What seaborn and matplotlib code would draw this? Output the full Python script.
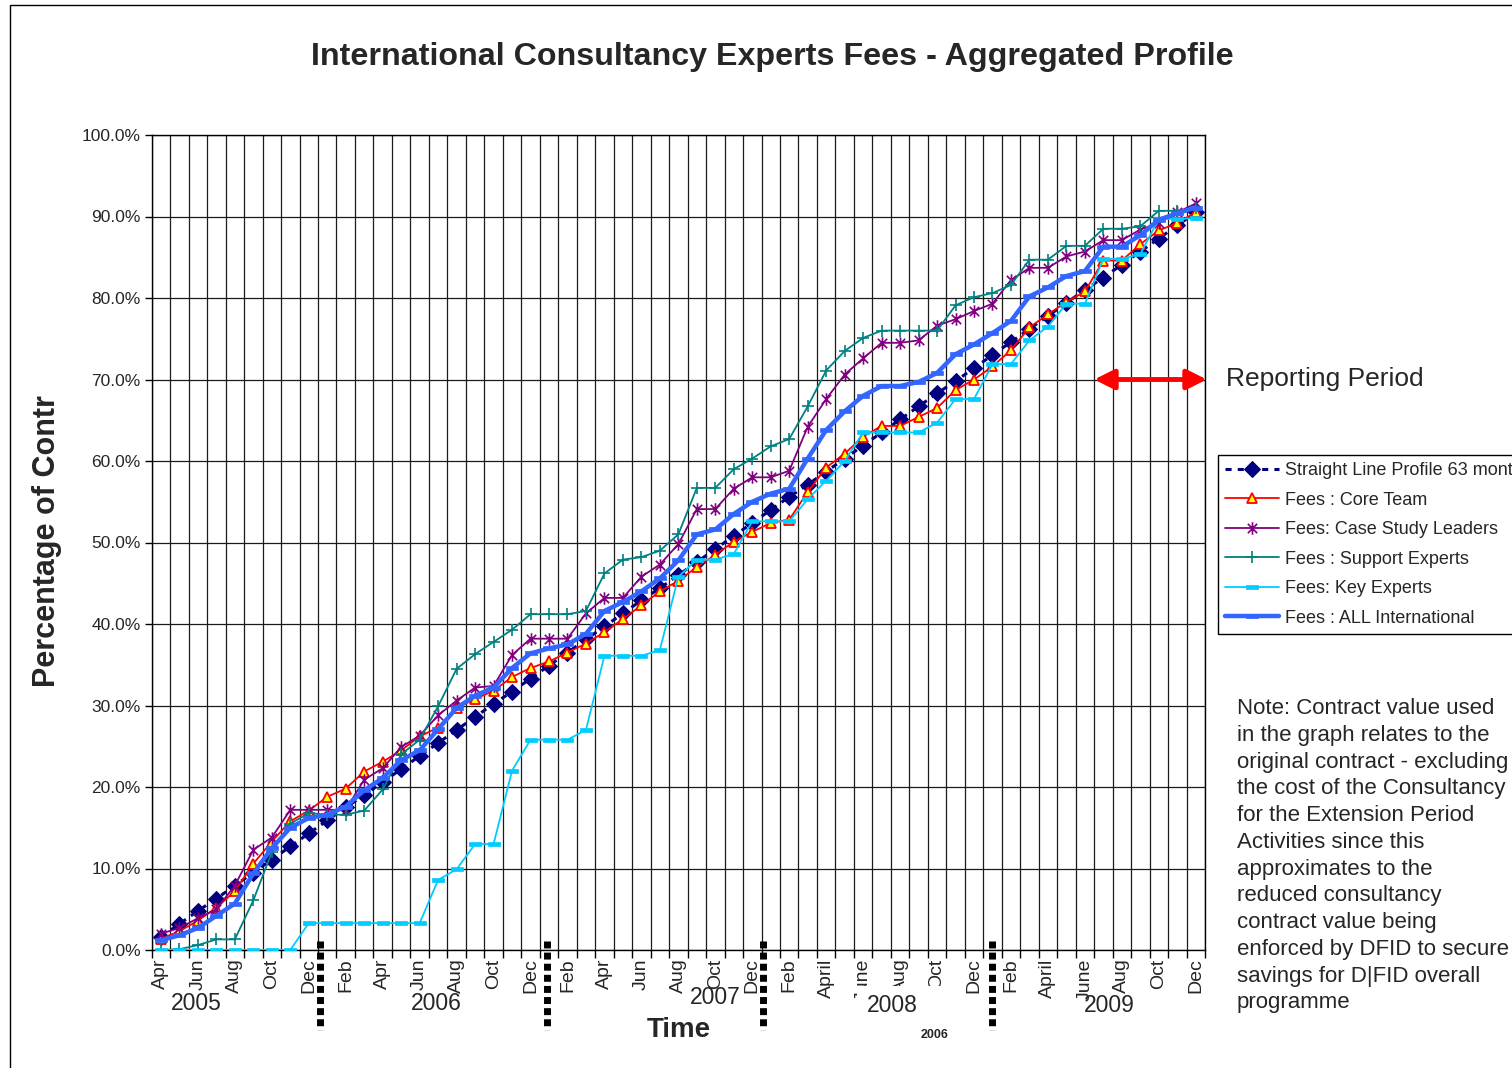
import matplotlib
matplotlib.use("Agg")
import matplotlib.pyplot as plt
import matplotlib.transforms as mtransforms
from matplotlib.path import Path
from matplotlib.patches import Rectangle
import numpy as np
import pandas as pd
import seaborn as sns

# months Apr 2005 .. Dec 2009 (57 categories)
months = ["Apr-05", "May-05", "Jun-05", "Jul-05", "Aug-05", "Sep-05", "Oct-05", "Nov-05", "Dec-05",
          "Jan-06", "Feb-06", "Mar-06", "Apr-06", "May-06", "Jun-06", "Jul-06", "Aug-06", "Sep-06",
          "Oct-06", "Nov-06", "Dec-06", "Jan-07", "Feb-07", "Mar-07", "Apr-07", "May-07", "Jun-07",
          "Jul-07", "Aug-07", "Sep-07", "Oct-07", "Nov-07", "Dec-07", "Jan-08", "Feb-08", "Mar-08",
          "Apr-08", "May-08", "Jun-08", "Jul-08", "Aug-08", "Sep-08", "Oct-08", "Nov-08", "Dec-08",
          "Jan-09", "Feb-09", "Mar-09", "Apr-09", "May-09", "Jun-09", "Jul-09", "Aug-09", "Sep-09",
          "Oct-09", "Nov-09", "Dec-09"]

tick_labels = ["Apr", "Jun", "Aug", "Oct", "Dec",
               "Feb", "Apr", "Jun", "Aug", "Oct", "Dec",
               "Feb", "Apr", "Jun", "Aug", "Oct", "Dec",
               "Feb", "April", "June", "Aug", "Oct", "Dec",
               "Feb", "April", "June", "Aug", "Oct", "Dec"]

year_labels = ["2005", "2006", "2007", "2008", "2009"]

straight = [1.6, 3.2, 4.8, 6.3, 7.9, 9.5, 11.1, 12.7, 14.3, 15.9, 17.5, 19.0, 20.6, 22.2, 23.8, 25.4,
            27.0, 28.6, 30.2, 31.7, 33.3, 34.9, 36.5, 38.1, 39.7, 41.3, 42.9, 44.4, 46.0, 47.6, 49.2,
            50.8, 52.4, 54.0, 55.6, 57.1, 58.7, 60.3, 61.9, 63.5, 65.1, 66.7, 68.3, 69.8, 71.4, 73.0,
            74.6, 76.2, 77.8, 79.4, 81.0, 82.5, 84.1, 85.7, 87.3, 88.9, 90.5]
core = [1.4, 2.3, 3.6, 5.2, 7.2, 10.6, 13.3, 15.8, 17.1, 18.8, 19.8, 21.9, 23.1, 24.5, 26.2, 27.3,
        29.7, 30.8, 31.8, 33.5, 34.6, 35.4, 36.5, 37.6, 39.0, 40.6, 42.3, 44.0, 45.3, 47.0, 48.5,
        50.1, 51.3, 52.4, 52.8, 56.2, 59.2, 60.9, 63.0, 64.3, 64.3, 65.4, 66.5, 68.7, 70.0, 71.6,
        73.6, 76.4, 78.0, 79.5, 80.8, 84.6, 84.6, 86.6, 88.3, 89.2, 90.5]
case_study = [2.0, 2.7, 3.9, 5.0, 7.9, 12.3, 13.8, 17.2, 17.2, 17.2, 17.2, 20.9, 22.3, 24.9, 26.3, 28.8,
              30.6, 32.2, 32.4, 36.2, 38.2, 38.2, 38.2, 41.3, 43.2, 43.2, 45.8, 47.3, 49.8, 54.1, 54.1,
              56.6, 58.0, 58.0, 58.8, 64.2, 67.6, 70.6, 72.6, 74.5, 74.5, 74.8, 76.6, 77.4, 78.4, 79.3,
              82.2, 83.7, 83.7, 85.1, 85.7, 87.1, 87.1, 88.4, 89.2, 90.5, 91.6]
support = [0.0, 0.1, 0.6, 1.3, 1.3, 6.1, 12.0, 15.5, 16.8, 16.6, 16.6, 17.1, 19.7, 24.0, 25.8, 29.9,
           34.5, 36.3, 37.8, 39.3, 41.2, 41.2, 41.2, 41.6, 46.2, 47.9, 48.2, 49.0, 51.0, 56.7, 56.7,
           59.0, 60.3, 61.8, 62.7, 66.7, 71.1, 73.5, 75.1, 76.0, 76.0, 76.0, 76.0, 79.1, 80.1, 80.6,
           81.6, 84.7, 84.7, 86.4, 86.4, 88.5, 88.5, 88.8, 90.7, 90.7, 91.0]
key = [0.0, 0.0, 0.0, 0.0, 0.0, 0.0, 0.0, 0.0, 3.3, 3.3, 3.3, 3.3, 3.3, 3.3, 3.3, 8.6,
       9.9, 13.0, 13.0, 22.0, 25.8, 25.8, 25.8, 27.0, 36.1, 36.1, 36.1, 36.8, 45.8, 47.9, 47.9,
       48.6, 52.6, 52.6, 52.6, 55.3, 57.6, 60.0, 63.5, 63.5, 63.5, 63.5, 64.7, 67.6, 67.6, 71.9,
       71.9, 74.8, 76.5, 79.3, 79.3, 84.8, 84.8, 85.4, 89.7, 89.7, 89.8]
all_int = [1.2, 1.8, 2.7, 4.2, 5.7, 9.4, 12.5, 15.0, 16.2, 16.6, 17.6, 19.6, 21.1, 23.3, 24.5, 27.1,
           29.7, 31.2, 32.2, 34.6, 36.4, 37.0, 37.5, 38.8, 41.6, 42.7, 44.0, 45.6, 47.8, 51.0, 51.6,
           53.5, 55.0, 56.0, 56.6, 60.3, 63.8, 66.1, 68.0, 69.2, 69.2, 69.7, 70.8, 73.1, 74.3, 75.7,
           77.2, 80.2, 81.3, 82.7, 83.3, 86.3, 86.3, 87.7, 89.6, 90.4, 91.1]

note = ("Note: Contract value used\nin the graph relates to the\noriginal contract - excluding\n"
        "the cost of the Consultancy\nfor the Extension Period\nActivities since this\n"
        "approximates to the\nreduced consultancy\ncontract value being\n"
        "enforced by DFID to secure\nsavings for D|FID overall\nprogramme")

sns.set_style("white")
plt.rcParams["font.family"] = ["Liberation Sans", "DejaVu Sans"]

W, H = 1512, 1068
fig = plt.figure(figsize=(W / 100, H / 100), dpi=100)
ax = fig.add_axes([151.7 / W, 1 - 950 / H, (1205 - 151.7) / W, (950 - 135) / H])

df = pd.DataFrame({"idx": np.arange(len(months)), "month": months,
                   "straight": straight, "core": core, "case": case_study,
                   "support": support, "key": key, "all": all_int})

# custom markers like the Excel ones
star = Path([(-0.75, -0.75), (0.75, 0.75), (-0.75, 0.75), (0.75, -0.75), (0, -1), (0, 1)],
            [Path.MOVETO, Path.LINETO, Path.MOVETO, Path.LINETO, Path.MOVETO, Path.LINETO])
bar = Path([(-1, -0.4), (1, -0.4), (1, 0.4), (-1, 0.4), (-1, -0.4)],
           [Path.MOVETO, Path.LINETO, Path.LINETO, Path.LINETO, Path.CLOSEPOLY])

series = [
    ("straight", "Straight Line Profile 63 months",
     dict(color="#000080", lw=2.2, linestyle=(0, (2, 2)), marker="D", markersize=8,
          markerfacecolor="#000080", markeredgecolor="#000080")),
    ("core", "Fees : Core Team",
     dict(color="#FF0000", lw=1.3, marker="^", markersize=7.5,
          markerfacecolor="#FFFF00", markeredgecolor="#FF0000", markeredgewidth=1.3)),
    ("case", "Fees: Case Study Leaders",
     dict(color="#800080", lw=1.3, marker=star, markersize=9,
          markerfacecolor="none", markeredgecolor="#800080", markeredgewidth=1.2)),
    ("support", "Fees : Support Experts",
     dict(color="#008080", lw=1.3, marker="+", markersize=8,
          markeredgecolor="#008080", markeredgewidth=1.2)),
    ("key", "Fees: Key Experts",
     dict(color="#00CCFF", lw=1.3, marker=bar, markersize=8,
          markerfacecolor="#00CCFF", markeredgecolor="#00CCFF", markeredgewidth=0.5)),
    ("all", "Fees : ALL International",
     dict(color="#3366FF", lw=3.2, marker=bar, markersize=8.5,
          markerfacecolor="#3366FF", markeredgecolor="#3366FF", markeredgewidth=0.5)),
]

for i, (col, lab, kw) in enumerate(series):
    sns.lineplot(data=df, x="idx", y=col, ax=ax, errorbar=None, label=lab, zorder=3 + i, **kw)

ax.set_xlim(-0.5, len(months) - 0.5)
ax.set_ylim(0, 100)

# category gridlines and ticks
ax.set_xticks(np.arange(0, len(months), 2))
ax.set_xticklabels(tick_labels, rotation=90, fontsize=14, va="top", ha="center")
ax.set_xticks(np.arange(-0.5, len(months), 1), minor=True)
ax.tick_params(axis="x", which="major", length=0, pad=6)
ax.tick_params(axis="x", which="minor", length=6, width=1, color="black", direction="out", bottom=True)
ax.set_yticks(np.arange(0, 101, 10))
ax.set_yticklabels([f"{v:.1f}%" for v in np.arange(0, 101, 10)], fontsize=12.5)
ax.tick_params(axis="y", length=5, width=1, color="black", direction="out", left=True, pad=3)
ax.grid(which="minor", axis="x", color="#1a1a1a", lw=0.9)
ax.grid(which="major", axis="y", color="#1a1a1a", lw=0.9)
ax.grid(which="major", axis="x", visible=False)
ax.set_axisbelow(True)
for s in ax.spines.values():
    s.set_color("black")
    s.set_linewidth(1)
ax.set_xlabel("")
ax.set_ylabel("")

blend = mtransforms.blended_transform_factory(ax.transData, fig.transFigure)

# white box that hides part of the 2008 month labels
fig.patches.append(Rectangle((857 / W, 1 - 1022 / H), 88 / W, 36 / H, transform=fig.transFigure,
                             facecolor="white", edgecolor="none", zorder=2))

# year labels under the month ticks
year_x = [1.9, 14.9, 30.0, 39.6, 51.3]
year_y = [1003, 1003, 997, 1005, 1005]
for lab, xx, yy in zip(year_labels, year_x, year_y):
    fig.text(xx, 1 - yy / H, lab, transform=blend, fontsize=16.5, ha="center", va="center",
             zorder=5)

# year break markers
for xx in [8.6, 20.9, 32.6, 45.0]:
    ax.plot([xx, xx], [1 - 941 / H, 1 - 1030 / H], transform=blend, clip_on=False, color="black",
            lw=5, dashes=(1, 0.6), dash_capstyle="butt", solid_capstyle="butt", zorder=25)

# reporting period arrow
ax.annotate("", xy=(56.6, 70), xytext=(50.5, 70), annotation_clip=False,
            arrowprops=dict(arrowstyle="<|-|>,head_length=0.6,head_width=0.3", color="#FF0000",
                            lw=3.5, mutation_scale=20, shrinkA=0, shrinkB=0), zorder=30)
fig.text(1226 / W, 1 - 379 / H, "Reporting Period", fontsize=19, ha="left", va="center")

handles, labels = ax.get_legend_handles_labels()
leg = ax.legend(handles, labels, loc="upper left", bbox_to_anchor=(1218 / W, 1 - 455 / H),
                bbox_transform=fig.transFigure, fontsize=13, frameon=True, fancybox=False,
                edgecolor="black", framealpha=1, borderpad=0.4, labelspacing=0.69,
                handlelength=3.0, handletextpad=0.3, borderaxespad=0, numpoints=1)
leg.get_frame().set_linewidth(1.0)

fig.text(1237 / W, 1 - 698 / H, note, fontsize=16, ha="left", va="top", linespacing=1.36)

fig.text(772 / W, 1 - 57 / H, "International Consultancy Experts Fees - Aggregated Profile",
         fontsize=23.2, fontweight="bold", ha="center", va="center")
fig.text(47 / W, 1 - 541 / H, "Percentage of Contr", fontsize=22, fontweight="bold",
         rotation=90, ha="center", va="center")
fig.text(679 / W, 1 - 1030 / H, "Time", fontsize=20, fontweight="bold", ha="center", va="center")
fig.text(935 / W, 1 - 1035 / H, "2006", fontsize=9, fontweight="bold", ha="center", va="center")

# chart area border (left and top edges visible)
fig.patches.append(Rectangle((10 / W, -0.05), 1.2, (H - 5) / H + 0.05, transform=fig.transFigure,
                             fill=False, edgecolor="black", lw=1))

fig.savefig("out.png", dpi=100)
